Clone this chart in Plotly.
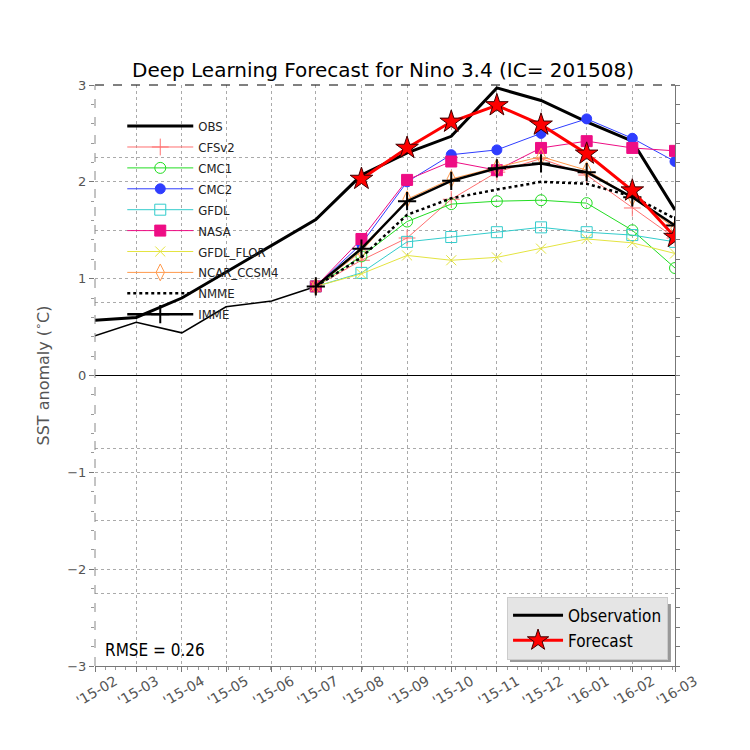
"""Nino 3.4 deep learning forecast versus NMME models (IC = 201508)."""
from plotly.graph_objects import Figure, Scatter  # type: ignore

months = ["2015-02-01", "2015-03-01", "2015-04-01", "2015-05-01", "2015-06-01",
          "2015-07-01", "2015-08-01", "2015-09-01", "2015-10-01", "2015-11-01",
          "2015-12-01", "2016-01-01", "2016-02-01", "2016-03-01"]
history_months = months[:6]
model_months = months[5:]
forecast_months = months[6:]

obs = [0.57, 0.60, 0.80, 1.07, 1.34, 1.61, 2.07, 2.30, 2.47, 2.97, 2.84, 2.62, 2.42, 1.71]
history = [0.41, 0.55, 0.44, 0.71, 0.77, 0.92]
forecast = [2.03, 2.35, 2.62, 2.79, 2.59, 2.29, 1.91, 1.43]

cfsv2 = [0.92, 1.19, 1.42, 1.82, 2.10, 2.24, 2.07, 1.73, 1.42]
cmc1 = [0.92, 1.23, 1.59, 1.77, 1.80, 1.81, 1.78, 1.50, 1.11]
cmc2 = [0.92, 1.36, 2.00, 2.28, 2.33, 2.50, 2.65, 2.45, 2.21]
gfdl = [0.92, 1.06, 1.38, 1.43, 1.48, 1.53, 1.48, 1.45, 1.38]
nasa = [0.92, 1.41, 2.02, 2.21, 2.12, 2.35, 2.42, 2.35, 2.32]
gfdl_flor = [0.92, 1.05, 1.24, 1.19, 1.22, 1.31, 1.41, 1.37, 1.26]
ncar_ccsm4 = [0.92, 1.28, 1.82, 2.03, 2.15, 2.26, 2.12, 1.84, 1.52]
nmme = [0.92, 1.22, 1.66, 1.83, 1.92, 2.00, 1.98, 1.85, 1.62]
imme = [0.92, 1.31, 1.80, 2.01, 2.14, 2.19, 2.10, 1.84, 1.55]

rmse_text = "RMSE = 0.26"

# name, values, color, marker symbol, marker size
models = [
    ("CFSv2", cfsv2, "#ff7070", "cross-thin", 12),
    ("CMC1", cmc1, "#22dd22", "circle-open", 11),
    ("CMC2", cmc2, "#2f3dff", "circle", 10),
    ("GFDL", gfdl, "#33cccc", "square-open", 11),
    ("NASA", nasa, "#ee0d84", "square", 11),
    ("GFDL_FLOR", gfdl_flor, "#e4e440", "x-thin", 10),
    ("NCAR_CCSM4", ncar_ccsm4, "#ff9a4d", "diamond-tall-open", 12),
]

fig = Figure()

# invisible copies so the right-hand and 0.75-step grid axes get drawn
for axis in ("y2", "y3"):
    fig.add_trace(Scatter(x=months, y=obs, mode="lines", yaxis=axis, showlegend=False,
                          opacity=0, hoverinfo="skip"))

fig.add_trace(Scatter(x=history_months, y=history, mode="lines", showlegend=False,
                      line=dict(color="black", width=1.6), hoverinfo="skip"))
fig.add_trace(Scatter(x=months, y=obs, name="OBS", legendgroup="OBS", mode="lines",
                      line=dict(color="black", width=3)))
for name, values, color, symbol, size in models:
    fig.add_trace(Scatter(
        x=model_months, y=values, name=name, legendgroup=name, mode="lines+markers",
        line=dict(color=color, width=1),
        marker=dict(symbol=symbol, size=size, color=color,
                    line=dict(color=color, width=1)),
    ))
fig.add_trace(Scatter(x=model_months, y=nmme, name="NMME", legendgroup="NMME",
                      mode="lines", line=dict(color="black", width=2.5, dash="dot")))
fig.add_trace(Scatter(x=model_months, y=imme, name="IMME", legendgroup="IMME",
                      mode="lines+markers", line=dict(color="black", width=2.5),
                      marker=dict(symbol="cross-thin", size=13,
                                  line=dict(color="black", width=2))))

# second legend: observation / forecast
fig.add_trace(Scatter(x=[None], y=[None], name="Observation", mode="lines",
                      legend="legend2", line=dict(color="black", width=3)))
fig.add_trace(Scatter(x=forecast_months, y=forecast, name="Forecast",
                      mode="lines+markers", legend="legend2",
                      line=dict(color="red", width=3),
                      marker=dict(symbol="star", size=17, color="red",
                                  line=dict(color="#400000", width=1))))

grid = dict(showgrid=True, gridcolor="#aaaaaa", griddash="dot", gridwidth=1)
fig.update_layout(
    width=750, height=750,
    paper_bgcolor="white", plot_bgcolor="white",
    margin=dict(l=87, r=83, t=77, b=92),
    font=dict(family="DejaVu Sans", color="#555555", size=13),
    title=dict(text="Deep Learning Forecast for Nino 3.4 (IC= 201508)",
               x=0.5, xanchor="center", y=0.917, yanchor="middle",
               font=dict(size=20, color="black")),
    xaxis=dict(type="date", range=[months[0], months[-1]], dtick="M1", tick0=months[0],
               tickformat="'%y-%m", tickangle=-30, ticks="outside", ticklen=5,
               tickcolor="#777777", showline=True, linecolor="#777777",
               tickfont=dict(size=14), ticklabelshift=20, ticklabelstandoff=-4,
               minor=dict(dtick=7 * 24 * 3600 * 1000, ticks="outside", ticklen=3,
                          tickcolor="#999999"),
               zeroline=False, **grid),
    yaxis=dict(range=[-3, 3], dtick=1, ticks="outside", ticklen=5, tickcolor="#777777",
               showline=False, zeroline=True, zerolinecolor="black", zerolinewidth=1,
               minor=dict(dtick=0.2, ticks="outside", ticklen=3, tickcolor="#999999"),
               title=dict(text="SST anomaly (<sup>∘</sup>C)", standoff=13,
                          font=dict(size=16, color="#555555")),
               tickformat="d", **grid),
    yaxis2=dict(range=[-3, 3], overlaying="y", side="right", showticklabels=False,
                dtick=0.2, ticks="outside", ticklen=4, tickcolor="#777777",
                showline=True, linecolor="#777777", showgrid=False, zeroline=False),
    yaxis3=dict(range=[-3, 3], overlaying="y", side="left", showticklabels=False,
                dtick=0.75, tick0=0, ticks="", showline=False, zeroline=False, **grid),
    legend=dict(x=0.047, y=0.955, xanchor="left", yanchor="top",
                bgcolor="rgba(0,0,0,0)", tracegroupgap=1, itemwidth=66,
                font=dict(family="DejaVu Sans Condensed", size=13, color="#222222")),
    legend2=dict(x=0.988, y=0.011, xanchor="right", yanchor="bottom",
                 bgcolor="#e5e5e5", bordercolor="#cccccc", borderwidth=1, itemwidth=50,
                 font=dict(family="DejaVu Sans Condensed", size=17, color="black")),
    annotations=[dict(text=rmse_text, xref="paper", yref="paper", x=0.013, y=0.028,
                      xanchor="left", yanchor="middle", showarrow=False,
                      font=dict(family="DejaVu Sans Condensed", size=17, color="black"))],
    shapes=[
        dict(type="line", xref="paper", yref="paper", x0=0, x1=1, y0=1, y1=1,
             line=dict(color="black", width=1, dash="dash")),
        dict(type="line", xref="paper", yref="paper", x0=0, x1=0, y0=0, y1=1,
             line=dict(color="#888888", width=1, dash="dash")),
        dict(type="rect", xref="paper", yref="paper", x0=0.7155, x1=0.993, y0=0.0069,
             y1=0.1067, line=dict(width=0), fillcolor="#999999", layer="above"),
    ],
)

fig.write_html("out.html")
